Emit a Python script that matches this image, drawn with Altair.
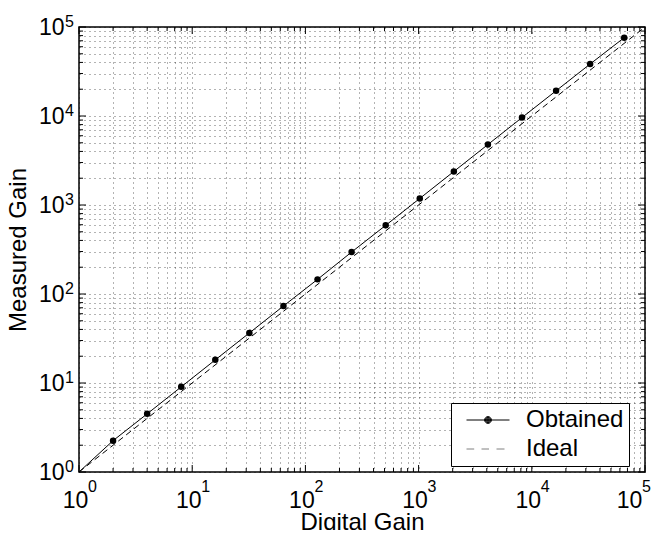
import altair as alt
import pandas as pd

# ---- data ----
digital_gain = [2, 4, 8, 16, 32, 64, 128, 256, 512, 1024, 2048, 4096, 8192, 16384, 32768, 65536]
measured_gain = [2.25, 4.5, 9.05, 18.2, 36.5, 73.3, 146, 296, 591, 1185, 2380, 4780, 9600, 19200, 38400, 75900]
line_start = [1, 1]          # obtained curve starts at (1, 1), no marker there
ideal_x = [1, 100000]
ideal_y = [1, 100000]
series_names = ["Obtained", "Ideal"]
series_colors = ["black", "#808080"]
exponents = ["0", "1", "2", "3", "4", "5"]

FONT = "Liberation Sans"
W, H = 566, 445

major_vals = [10 ** i for i in range(6)]
minor_vals = [m * 10 ** d for d in range(5) for m in range(2, 10)]
grid_vals = sorted(major_vals + minor_vals)

xs = alt.Scale(type="log", domain=[1, 100000], nice=False)
ys = alt.Scale(type="log", domain=[1, 100000], nice=False)

is_major = "abs(log(datum.value)/LN10 - round(log(datum.value)/LN10)) < 1e-6 ? '10' : ''"

x_axis = alt.Axis(values=grid_vals, labelExpr=is_major, grid=True, ticks=False, domain=False,
                  labelFont=FONT, labelFontSize=23, labelColor="black", labelBaseline="alphabetic",
                  labelPadding=35,
                  labelOffset={"condition": {"test": "datum.value >= 99999", "value": -16}, "value": -4},
                  labelOverlap=False, labelFlush=False, labelBound=False,
                  gridColor="black", gridOpacity=0.6, gridDash=[1, 4], gridWidth=1,
                  title="Digital Gain", titleFont=FONT, titleFontSize=24, titleFontWeight="normal",
                  titleColor="black", titleBaseline="alphabetic", titleY=57)
y_axis = alt.Axis(values=grid_vals, labelExpr=is_major, grid=True, ticks=False, domain=False,
                  labelFont=FONT, labelFontSize=23, labelColor="black", labelBaseline="middle",
                  labelPadding=15, labelOverlap=False, labelFlush=False, labelBound=False,
                  gridColor="black", gridOpacity=0.6, gridDash=[1, 4], gridWidth=1,
                  title="Measured Gain", titleFont=FONT, titleFontSize=24, titleFontWeight="normal",
                  titleColor="black", titleBaseline="alphabetic", titleX=-54)

obt = pd.DataFrame({"gx": [line_start[0]] + digital_gain, "gy": [line_start[1]] + measured_gain})
pts = pd.DataFrame({"gx": digital_gain, "gy": measured_gain})
ideal = pd.DataFrame({"gx": ideal_x, "gy": ideal_y})

X = lambda: alt.X("gx:Q", scale=xs)
Y = lambda: alt.Y("gy:Q", scale=ys)

ideal_line = alt.Chart(ideal).mark_line(color="black", strokeWidth=1, strokeDash=[6, 4]).encode(
    x=alt.X("gx:Q", scale=xs, axis=x_axis),
    y=alt.Y("gy:Q", scale=ys, axis=y_axis),
)
obt_line = alt.Chart(obt).mark_line(color="black", strokeWidth=1).encode(x=X(), y=Y())
obt_pts = alt.Chart(pts).mark_point(filled=True, color="black", size=42, opacity=1).encode(x=X(), y=Y())

# exponent superscripts
exp_df = pd.DataFrame({"gx": major_vals, "gy": major_vals, "exp": exponents})
x_exp = alt.Chart(exp_df).transform_filter("datum.gx < 99999").mark_text(
    font=FONT, fontSize=16, align="left", baseline="alphabetic", dx=9, color="black").encode(
    x=X(), y=alt.value(H + 20), text="exp:N")
x_exp_last = alt.Chart(exp_df).transform_filter("datum.gx >= 99999").mark_text(
    font=FONT, fontSize=16, align="left", baseline="alphabetic", dx=-3, color="black").encode(
    x=X(), y=alt.value(H + 20), text="exp:N")
y_exp = alt.Chart(exp_df).mark_text(
    font=FONT, fontSize=16, align="left", baseline="alphabetic", color="black").encode(
    y=Y(), x=alt.value(-14), text="exp:N")

# inward tick marks on all four sides
def ticks(vals, length):
    d = pd.DataFrame({"gx": vals, "gy": vals})
    base = alt.Chart(d).mark_rule(color="black", strokeWidth=1)
    return [
        base.encode(x=X(), y=alt.value(H), y2=alt.value(H - length)),
        base.encode(x=X(), y=alt.value(0), y2=alt.value(length)),
        base.encode(y=Y(), x=alt.value(0), x2=alt.value(length)),
        base.encode(y=Y(), x=alt.value(W), x2=alt.value(W - length)),
    ]

tick_layers = ticks(major_vals, 7) + ticks(minor_vals, 4)

# legend built from a hidden layer with custom symbols
dot = "".join(
    f"M-{r},0A{r},{r},0,1,1,{r},0A{r},{r},0,1,1,-{r},0Z" for r in (0.34, 0.27, 0.2, 0.13, 0.06)
)
obt_sym = "M-2.15,0L2.15,0" + dot
ideal_sym = "M-2.15,0L-1.38,0M-0.65,0L0.1,0M0.85,0L1.65,0"
leg_df = pd.DataFrame({"gx": [10000, 10000], "gy": [3, 3], "series": series_names})
leg = alt.Legend(title=None, orient="none", legendX=372, legendY=376,
                 strokeColor="black", fillColor="white", padding=5,
                 symbolSize=400, symbolStrokeWidth=1, symbolOpacity=1, symbolOffset=20,
                 labelFont=FONT, labelFontSize=24, labelColor="black", labelBaseline="middle",
                 labelOffset=26, rowPadding=5, labelLimit=400,
                 labelExpr="datum.label + '       '")
legend_layer = alt.Chart(leg_df).mark_point(filled=False, opacity=0, strokeWidth=1).encode(
    x=X(), y=Y(),
    shape=alt.Shape("series:N", scale=alt.Scale(domain=series_names, range=[obt_sym, ideal_sym]),
                    legend=leg),
    color=alt.Color("series:N", scale=alt.Scale(domain=series_names, range=series_colors),
                    legend=leg),
)

chart = alt.layer(ideal_line, obt_line, obt_pts, x_exp, x_exp_last, y_exp, legend_layer,
                  *tick_layers).properties(
    width=W, height=H,
    autosize=alt.AutoSizeParams(type="none"),
    padding={"left": 71, "top": 19, "right": 10, "bottom": 58},
    background="white",
).configure_view(stroke="black", strokeWidth=1.5)

chart.save("out.html", embed_options={"renderer": "svg", "actions": False})
